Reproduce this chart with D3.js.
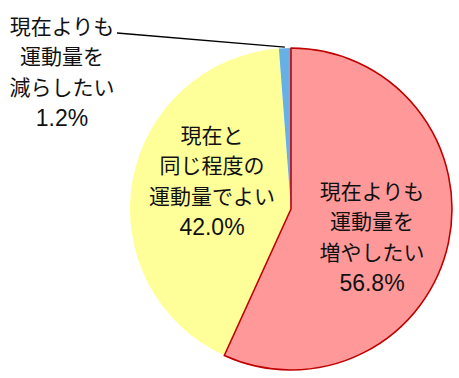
<!DOCTYPE html>
<html>
<head>
<meta charset="utf-8">
<script src="https://cdn.jsdelivr.net/npm/d3@7"></script>
<style>
  body { margin: 0; background: #fff; }
  text { font-family: "Liberation Sans", "Noto Sans CJK JP", sans-serif; fill: #111; }
</style>
</head>
<body>
<div id="chart"></div>
<script>
// slice order: clockwise from 12 o'clock
const categories = ["増やしたい", "同程度", "減らしたい"];
const values = [56.8, 42.0, 1.2];
const labelLines = [
  ["現在よりも", "運動量を", "増やしたい", "56.8%"],
  ["現在と", "同じ程度の", "運動量でよい", "42.0%"],
  ["現在よりも", "運動量を", "減らしたい", "1.2%"]
];
const fills = ["#ff9999", "#ffff99", "#66b0e6"];
const strokes = ["#c00000", "none", "none"];

const width = 459, height = 378;
const cx = 291, cy = 209, r = 161;

const svg = d3.select("#chart").append("svg")
  .attr("width", width)
  .attr("height", height);

const pie = d3.pie().sort(null).value(d => d.value);
const arcs = pie(categories.map((c, i) => ({ key: c, value: values[i], i: i })));
const arc = d3.arc().innerRadius(0).outerRadius(r);

const g = svg.append("g").attr("transform", `translate(${cx},${cy})`);

// draw red last so its border sits on top
const drawOrder = [1, 2, 0];
g.selectAll("path")
  .data(drawOrder.map(i => arcs[i]))
  .enter().append("path")
  .attr("d", arc)
  .attr("fill", d => fills[d.data.i])
  .attr("stroke", d => strokes[d.data.i])
  .attr("stroke-width", 1.6)
  .attr("stroke-linejoin", "round");

// label anchor points (label block centres)
const labelPos = [[372, 237], [212, 181], [62, 72]];
const fontSize = 21, lineH = 30.5;

labelLines.forEach((lines, i) => {
  const t = svg.append("text")
    .attr("text-anchor", "middle")
    .attr("font-size", fontSize);
  const y0 = labelPos[i][1] - (lines.length - 1) * lineH / 2;
  lines.forEach((s, k) => {
    t.append("tspan")
      .attr("x", labelPos[i][0])
      .attr("y", y0 + k * lineH)
      .attr("dy", "0.36em")
      .attr("font-size", k === lines.length - 1 ? 23 : null)
      .text(s);
  });
});

// leader line for the small slice
const small = arcs[2];
const mid = (small.startAngle + small.endAngle) / 2;
const ex = cx + Math.sin(mid) * (r + 1), ey = cy - Math.cos(mid) * (r + 1);
svg.append("path")
  .attr("d", `M117,33L${ex},${ey}`)
  .attr("stroke", "#000")
  .attr("stroke-width", 1.3)
  .attr("fill", "none");
</script>
</body>
</html>
